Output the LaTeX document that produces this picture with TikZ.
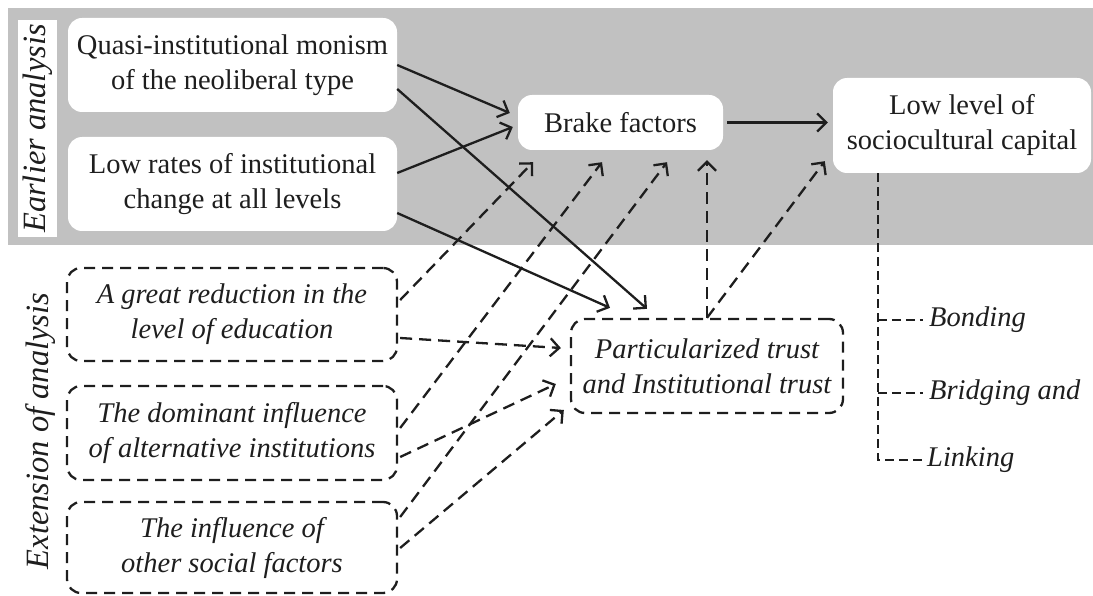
\documentclass[tikz,border=0pt]{standalone}
\usepackage{fontspec}
\setmainfont{Liberation Serif}
\usetikzlibrary{arrows.meta,calc}
\definecolor{bandgray}{RGB}{193,193,193}
\definecolor{ink}{RGB}{30,30,30}
\begin{document}
\begin{tikzpicture}[x=1pt,y=-1pt,
  basefont/.style={font=\fontsize{28.5}{35}\selectfont},
  whitebox/.style={basefont, text=ink, align=center, inner sep=0pt, fill=white, rounded corners=14pt},
  dashbox/.style={font=\fontsize{28.5}{35}\selectfont\itshape, text=ink, align=center, inner sep=0pt,
    draw=ink, line width=2.3pt, dash pattern=on 11pt off 7pt, rounded corners=14pt},
  sidelabel/.style={font=\fontsize{32.5}{38}\selectfont\itshape, text=ink, rotate=90, inner sep=0pt},
  leaf/.style={font=\fontsize{28.5}{35}\selectfont\itshape, text=ink, anchor=west, inner sep=0pt},
  link/.style={draw=ink, line width=2.3pt, -{Straight Barb[length=9pt,width=18pt,line width=2.3pt]}},
  dlink/.style={link, dash pattern=on 12pt off 7pt},
  branch/.style={draw=ink, line width=2.3pt, dash pattern=on 9pt off 5pt}
]
\useasboundingbox (0,0) rectangle (1093,596);

% shaded band of the earlier analysis
\fill[bandgray] (8,8) rectangle (1093,245);

% side labels
\node[sidelabel, fill=white, minimum width=217pt, minimum height=39pt] (earlier) at (37.5,128.5) {Earlier analysis};
\node[sidelabel] (extension) at (41,431) {Extension of analysis};

% earlier analysis
\node[whitebox, minimum width=329pt, minimum height=94pt] (mon) at (232.5,65) {Quasi-institutional monism\\of the neoliberal type};
\node[whitebox, minimum width=329pt, minimum height=94pt] (rates) at (232.5,184) {Low rates of institutional\\change at all levels};
\node[whitebox, minimum width=205pt, minimum height=55pt] (brake) at (620.5,122.5) {Brake factors};
\node[whitebox, minimum width=258pt, minimum height=95pt] (low) at (962,125.5) {Low level of\\sociocultural capital};

% extension of analysis
\node[dashbox, minimum width=330pt, minimum height=93pt] (edu) at (232,314.5) {A great reduction in the\\level of education};
\node[dashbox, minimum width=330pt, minimum height=94pt] (alt) at (232,433) {The dominant influence\\of alternative institutions};
\node[dashbox, minimum width=330pt, minimum height=91pt] (soc) at (232,547.5) {The influence of\\other social factors};
\node[dashbox, minimum width=272pt, minimum height=94pt] (trust) at (707,366) {Particularized trust\\and Institutional trust};

% forms of capital
\node[leaf] (bond) at (929,320) {Bonding};
\node[leaf] (bridge) at (929,393) {Bridging and};
\node[leaf] (linking) at (927,460) {Linking};

% solid connectors
\draw[link] (mon.east) -- ($(brake.west)+(-8,-9.5)$);
\draw[link] ($(mon.east)+(0,24)$) -- ($(trust.north)+(-60,-9)$);
\draw[link] ($(rates.east)+(0,-11)$) -- ($(brake.west)+(-5,4.5)$);
\draw[link] ($(rates.east)+(0,29)$) -- ($(trust.north)+(-97,-10)$);
\draw[link] ($(brake.east)+(4,0)$) -- ($(low.west)+(-5,-3)$);

% dashed connectors
\draw[dlink] ($(edu.east)+(2,-14.5)$) -- ($(brake.south)+(-87.5,12)$);
\draw[dlink] ($(edu.east)+(2,23.5)$) -- ($(trust.west)+(-9,-18)$);
\draw[dlink] ($(alt.east)+(2,-5)$) -- ($(brake.south)+(-18.5,12)$);
\draw[dlink] ($(alt.east)+(2,24)$) -- ($(trust.west)+(-14,18)$);
\draw[dlink] ($(soc.east)+(2,-30.5)$) -- ($(brake.south)+(46.5,12)$);
\draw[dlink] ($(soc.east)+(2,0.5)$) -- ($(trust.west)+(-6,44)$);
\draw[dlink] (trust.north) -- ($(brake.south)+(86.5,10)$);
\draw[dlink] (trust.north) -- ($(low.south west)+(-8,-12)$);

% branches of sociocultural capital
\coordinate (trunk) at ($(low.south west)+(45,0)$);
\draw[branch, shorten >=5pt] (trunk) |- (linking.west);
\draw[branch, shorten >=6pt] (trunk |- bond.west) -- (bond.west);
\draw[branch, shorten >=6pt] (trunk |- bridge.west) -- (bridge.west);
\end{tikzpicture}
\end{document}
